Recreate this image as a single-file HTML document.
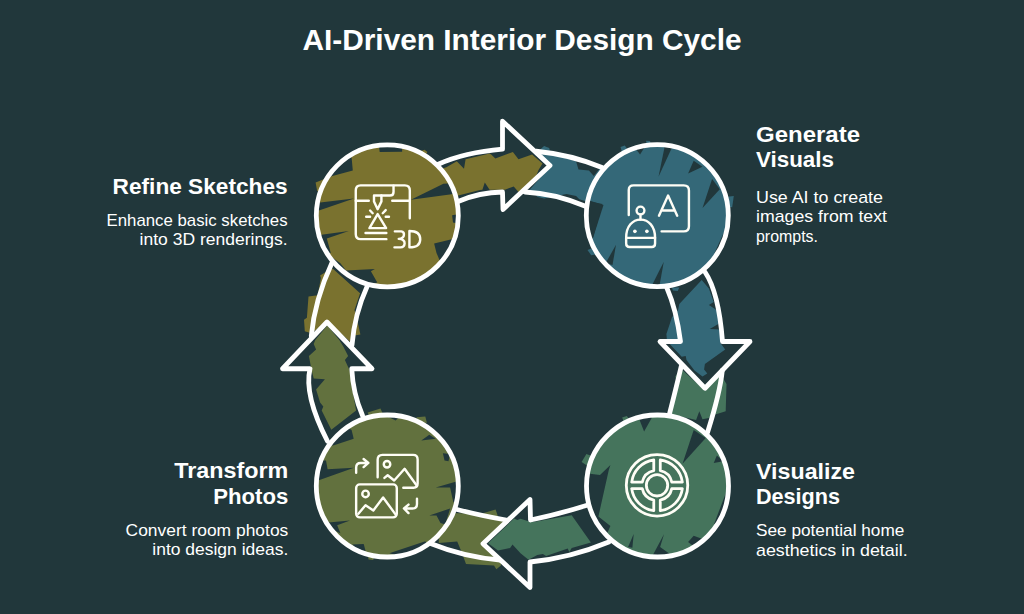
<!DOCTYPE html>
<html><head><meta charset="utf-8"><title>AI-Driven Interior Design Cycle</title>
<style>html,body{margin:0;padding:0;background:#21373b;}body{width:1024px;height:614px;overflow:hidden;font-family:"Liberation Sans",sans-serif;}svg{display:block;}</style>
</head><body>
<svg width="1024" height="614" viewBox="0 0 1024 614">
<rect width="1024" height="614" fill="#21373b"/>
<defs>
<clipPath id="cTL"><circle cx="387.3" cy="215.8" r="71"/></clipPath>
<clipPath id="cTR"><circle cx="657.3" cy="215.6" r="71"/></clipPath>
<clipPath id="cBL"><circle cx="387.3" cy="486.0" r="71"/></clipPath>
<clipPath id="cBR"><circle cx="657.5" cy="486.0" r="71"/></clipPath>
</defs>
<g id="fills">
<polygon points="436.8,170.4 446.4,167.2 456.8,161.2 464.0,168.8 465.6,159.2 489.6,153.6 491.2,154.4 495.3,158.4 512.9,152.0 518.5,159.2 532.1,154.4 542.5,163.6 538.5,170.0 536.1,176.0 523.3,189.7 518.5,192.1 513.7,186.5 504.9,189.7 489.6,189.7 484.8,182.5 482.4,189.7 480.0,190.1 459.2,195.3 449.6,198.5" fill="#7a722f"/>
<polygon points="534.5,154.4 544.1,145.9 549.2,148.0 550.5,153.6 576.1,161.6 578.5,169.6 588.9,170.4 593.8,176.0 600.2,168.0 606.6,176.0 606.6,204.9 584.9,200.9 579.3,199.3 576.1,196.1 566.5,194.0 544.1,198.5 537.7,196.9 529.7,189.7 551.3,165.6" fill="#346878"/>
<polygon points="701.7,279.9 708.9,288.4 713.7,302.0 708.9,304.9 717.7,310.8 718.8,323.7 709.7,328.9 720.1,329.6 720.9,340.5 720.1,342.4 725.2,349.6 704.9,364.0 704.1,369.6 707.3,373.6 702.5,376.4 694.5,370.4 686.5,360.0 685.7,356.0 681.7,356.8 670.4,344.8 666.9,339.7 666.4,334.1 672.0,317.3 678.1,310.0 679.3,304.0" fill="#346878"/>
<polygon points="672.0,287.6 679.3,287.6 677.7,291.1 672.8,290.5" fill="#346878"/>
<polygon points="680.1,368.0 704.1,389.7 720.1,373.6 726.5,384.0 725.7,411.3 717.7,413.7 711.3,415.3 708.9,418.0 702.5,419.3 699.3,411.3 696.1,420.1 673.6,414.8 670.4,413.7 677.7,384.0 675.2,376.8 679.3,370.4" fill="#45745c"/>
<polygon points="571.7,515.3 590.9,542.5 571.7,548.0 569.3,552.1 567.7,548.5 546.1,556.0 542.9,554.1 537.3,554.9 528.5,559.7 520.5,553.3 512.5,544.5 510.1,548.0 498.0,550.5 488.1,543.2 514.1,518.5 517.3,520.1 520.5,518.8 528.5,521.2 533.3,522.0" fill="#45745c"/>
<polygon points="438.8,512.4 480.4,514.0 495.6,509.5 498.0,516.4 503.7,522.0 482.0,542.9 501.2,561.3 500.9,565.6 496.4,569.3 494.0,565.6 466.0,564.0 464.7,560.5 461.2,550.9 457.2,541.6 438.8,542.9" fill="#62713e"/>
<polygon points="332.9,268.7 360.1,293.2 354.5,310.0 358.5,326.1 360.4,334.4 351.8,336.0 350.5,342.1 327.3,321.6 311.3,333.3 304.8,331.2 304.0,319.7 306.9,317.7 308.5,296.4 317.7,295.3 320.9,278.0 320.1,275.6 326.5,271.6" fill="#7a722f"/>
<polygon points="327.3,325.6 315.3,340.0 313.7,344.0 316.1,349.6 308.9,356.0 311.3,368.8 313.7,378.4 324.9,379.2 316.1,389.6 320.1,402.5 323.3,406.5 321.7,410.5 331.3,429.7 356.1,410.5 352.1,388.0 349.7,370.4 344.9,360.0 348.1,356.0 343.3,346.4 339.3,340.0" fill="#62713e"/>
<polygon points="315.6,182.4 330.0,176.8 331.6,187.2 317.2,191.3" fill="#7a722f"/>
<polygon points="418.1,152.0 424.5,149.8 427.4,152.0 424.5,156.8" fill="#7a722f"/>
<polygon points="620.5,146.9 624.8,145.6 628.9,151.2 622.4,153.6" fill="#346878"/>
<polygon points="646.1,140.8 650.0,141.1 651.3,145.6 646.5,145.6" fill="#346878"/>
<polygon points="724.9,196.9 733.8,196.1 732.2,207.3 724.9,206.5" fill="#346878"/>
<polygon points="587.5,250.0 592.8,248.0 596.0,254.5 591.2,255.3" fill="#346878"/>
<polygon points="581.6,462.1 586.4,454.0 600.0,458.9 593.6,470.1" fill="#45745c"/>
<polygon points="622.1,417.5 626.9,415.9 630.5,421.2 624.0,422.0" fill="#45745c"/>
<polygon points="367.7,412.4 380.5,408.4 382.9,414.0 370.1,418.8" fill="#62713e"/>
<polygon points="416.5,417.2 425.3,416.4 426.9,422.8 418.1,423.6" fill="#62713e"/>
<polygon points="367.7,554.9 374.1,554.9 373.3,560.0 368.5,559.4" fill="#62713e"/>
<circle cx="387.3" cy="215.8" r="71" fill="#7a722f"/>
<g clip-path="url(#cTL)" fill="#21373b">
<polygon points="378.9,145.6 402.1,145.6 402.1,151.7 379.7,152.0"/>
<polygon points="351.6,157.6 352.8,170.4 332.4,176.0 315.6,182.4 330.0,145.6"/>
<polygon points="312.4,203.3 354.0,198.6 312.4,212.6"/>
<polygon points="410.9,199.7 443.4,183.7 464.6,182.4 464.6,192.4"/>
<polygon points="452.1,215.3 456.5,214.5 456.5,223.3 453.0,222.5"/>
<polygon points="315.6,235.6 348.9,231.1 326.8,238.4 330.8,252.9 315.6,252.9"/>
<polygon points="434.1,243.6 459.8,237.2 459.8,262.5 439.7,260.5 436.5,252.9"/>
<polygon points="331.6,256.9 340.4,263.3 346.0,270.5 374.9,268.9 370.9,271.3 377.3,282.5 354.0,289.7 325.2,270.5"/>
</g>
<circle cx="657.3" cy="215.6" r="71" fill="#346878"/>
<g clip-path="url(#cTR)" fill="#21373b">
<polygon points="664.9,145.6 672.9,145.6 658.5,176.8"/>
<polygon points="693.7,160.8 702.5,166.8 688.1,173.6"/>
<polygon points="712.1,178.9 719.8,189.2 702.5,208.1"/>
<polygon points="634.5,147.2 644.1,148.0 640.1,154.4"/>
<polygon points="585.6,199.3 603.5,204.9 592.8,238.5 582.4,238.5"/>
<polygon points="582.4,200.0 602.4,204.0 592.8,238.4 585.6,238.4"/>
<polygon points="605.6,263.3 612.5,264.9 616.0,244.8"/>
<polygon points="652.1,284.9 659.6,284.9 663.8,261.7"/>
<polygon points="726.2,227.2 729.8,227.2 716.9,252.9 714.4,253.3"/>
</g>
<circle cx="387.3" cy="486.0" r="71" fill="#62713e"/>
<g clip-path="url(#cBL)" fill="#21373b">
<polygon points="351.6,430.0 353.7,438.8 334.0,445.2 322.0,447.6 338.0,422.0"/>
<polygon points="385.3,415.6 400.5,415.6 395.7,420.4"/>
<polygon points="326.0,460.5 327.6,469.3 354.0,467.7 315.6,481.3 315.6,460.5"/>
<polygon points="421.3,440.4 435.7,438.8 429.3,434.8"/>
<polygon points="442.9,453.2 450.1,454.0 448.5,461.3 444.5,460.5"/>
<polygon points="435.7,487.6 459.8,480.4 459.8,505.2 453.3,502.0 450.1,487.6"/>
<polygon points="429.3,515.6 450.1,508.4 445.3,524.5 440.5,522.9 436.5,515.6"/>
<polygon points="328.4,522.5 350.0,520.4 337.2,525.3 340.4,533.3 331.6,529.3"/>
<polygon points="352.4,544.5 363.7,544.0 365.6,550.9 357.2,550.1"/>
<polygon points="389.3,553.3 425.3,541.3 427.7,545.3 402.1,556.5"/>
</g>
<circle cx="657.5" cy="486.0" r="71" fill="#45745c"/>
<g clip-path="url(#cBR)" fill="#21373b">
<polygon points="638.5,417.2 652.1,417.2 644.1,431.6"/>
<polygon points="693.7,430.0 705.7,438.0 682.5,463.7"/>
<polygon points="716.9,455.6 723.3,461.3 713.7,462.9"/>
<polygon points="585.6,473.3 600.0,474.9 610.4,464.9 608.8,470.1 598.4,516.5 610.4,526.1 607.2,533.3 585.6,518.1"/>
<polygon points="628.1,546.9 633.7,534.1 632.4,547.7"/>
<polygon points="652.9,554.9 664.1,534.1 660.1,546.9 671.3,554.9"/>
<polygon points="688.1,542.1 693.7,535.7 702.5,538.9 695.3,547.7"/>
<polygon points="727.3,489.2 731.4,489.2 716.9,524.5 714.1,524.0"/>
</g>
</g>
<g id="outlines" fill="none" stroke="#ffffff" stroke-width="4.8" stroke-linejoin="round" stroke-linecap="round">
<path d="M438.30 164.30 Q464.60 152.45 502.50 149.20 L502.50 121.25 L550.00 165.50 L503.00 209.50 L502.50 192.00 Q479.38 192.38 458.75 201.25"/>
<path d="M536.25 151.25 Q570.88 154.62 602.00 167.50 "/>
<path d="M525.00 192.00 Q554.75 193.38 585.50 206.25 "/>
<path d="M705.00 272.00 Q718.75 292.25 722.50 341.50 L750.00 341.50 L705.00 388.25 L660.00 341.50 L680.50 341.50 Q676.25 309.12 667.00 288.25"/>
<path d="M722.30 370.50 Q720.10 392.50 707.50 432.50 "/>
<path d="M681.25 366.25 Q674.62 394.00 669.50 413.75 "/>
<path d="M608.75 542.00 Q570.62 558.00 530.00 562.00 L530.00 587.50 L483.00 543.75 L530.00 499.50 L530.50 520.00 Q556.62 514.75 586.25 505.50"/>
<path d="M500.00 560.00 Q464.38 557.12 431.25 543.75 "/>
<path d="M506.25 520.00 Q483.38 516.25 457.00 509.50 "/>
<path d="M327.50 441.25 Q303.75 395.00 310.00 368.75 L282.50 368.75 L327.00 322.00 L372.00 368.75 L351.75 368.75 Q352.88 392.88 362.50 415.50"/>
<path d="M311.25 336.25 Q314.62 299.88 332.30 262.00 "/>
<path d="M352.00 345.00 Q354.35 314.50 367.30 286.00 "/>
<circle cx="387.3" cy="215.8" r="71"/>
<circle cx="657.3" cy="215.6" r="71"/>
<circle cx="387.3" cy="486.0" r="71"/>
<circle cx="657.5" cy="486.0" r="71"/>
</g>
<g transform="translate(346,176) scale(0.13023)" fill="none" stroke="#fffef6" stroke-width="18.5" stroke-linecap="round" stroke-linejoin="round"><path d="M490,325 V112 Q490,72 452,72 H112 Q75,72 75,112 V448 Q75,485 112,485 H310"/><path d="M75,190 H175 M355,190 H490"/><path d="M365,75 V122 Q365,150 338,150 H225"/><path d="M215,150 V195 L243,255 L272,195 V150"/><path d="M243,292 L180,400 H308 Z"/><path d="M155,313 H185 M305,313 H330 M185,265 L205,286 M282,286 L305,262"/><path d="M150,438 H310"/><path d="M375,425 H425 Q447,427 445,452 Q443,480 405,483 Q452,486 450,517 Q448,548 418,548 H372"/><path d="M487,422 V548 Q570,548 570,485 Q570,422 487,422 Z"/></g>
<g transform="translate(616,176) scale(0.13023)" fill="none" stroke="#fffef6" stroke-width="18.5" stroke-linecap="round" stroke-linejoin="round"><path d="M98,300 V108 Q98,72 135,72 H520 Q560,72 560,112 V385 Q560,425 520,425 H350"/><path d="M330,305 L400,150 L470,305 M350,265 H450"/><circle cx="188" cy="265" r="30"/><path d="M188,295 V335"/><path d="M78,475 C78,385 128,335 188,335 C250,335 300,385 300,475"/><path d="M78,475 H300 M78,475 V518 Q78,545 105,545 H275 Q300,545 300,518 V475"/><circle cx="145" cy="425" r="14" fill="#fffef6" stroke="none"/><circle cx="237" cy="425" r="14" fill="#fffef6" stroke="none"/></g>
<g transform="translate(616,446) scale(0.13023)" fill="none" stroke="#fffef6" stroke-width="21.5" stroke-linecap="round" stroke-linejoin="round"><circle cx="315" cy="302" r="236"/><circle cx="315" cy="302" r="82"/><path d="M290.0,107.6 A196,196 0 0 0 120.6,277.0 L201.7,277.0 A116,116 0 0 1 290.0,188.7 Z M290.0,496.4 A196,196 0 0 1 120.6,327.0 L201.7,327.0 A116,116 0 0 0 290.0,415.3 Z M340.0,107.6 A196,196 0 0 1 509.4,277.0 L428.3,277.0 A116,116 0 0 0 340.0,188.7 Z M340.0,496.4 A196,196 0 0 0 509.4,327.0 L428.3,327.0 A116,116 0 0 1 340.0,415.3 Z"/></g>
<g transform="translate(346,446) scale(0.13023)" fill="none" stroke="#fffef6" stroke-width="18.5" stroke-linecap="round" stroke-linejoin="round"><path d="M243,240 V105 Q243,68 280,68 H515 Q550,68 550,103 V288 Q550,320 518,320 H440"/><circle cx="315" cy="140" r="25"/><path d="M295,245 L320,225 L370,265 L450,175 L540,300"/><rect x="78" y="295" width="312" height="253" rx="28"/><circle cx="150" cy="368" r="25"/><path d="M95,520 L150,455 L210,495 L285,395 L380,525"/><path d="M78,205 V165 Q78,130 113,130 H170 M135,100 L172,130 L135,162"/><path d="M545,405 V445 Q545,480 510,480 H450 M480,450 L445,480 L480,515"/></g>
<g id="text" fill="#ffffff" font-family="'Liberation Sans', sans-serif">
<text x="522.0" y="49.8" font-size="29.0" font-weight="bold" text-anchor="middle" textLength="439.0" lengthAdjust="spacingAndGlyphs">AI-Driven Interior Design Cycle</text>
<text x="287.6" y="193.9" font-size="22.0" font-weight="bold" text-anchor="end" textLength="175.0" lengthAdjust="spacingAndGlyphs">Refine Sketches</text>
<text x="287.6" y="225.5" font-size="17.0" text-anchor="end" textLength="181.0" lengthAdjust="spacingAndGlyphs">Enhance basic sketches</text>
<text x="287.6" y="244.9" font-size="17.0" text-anchor="end" textLength="148.0" lengthAdjust="spacingAndGlyphs">into 3D renderings.</text>
<text x="756.0" y="141.8" font-size="22.0" font-weight="bold" textLength="104.0" lengthAdjust="spacingAndGlyphs">Generate</text>
<text x="756.0" y="167.3" font-size="22.0" font-weight="bold" textLength="78.0" lengthAdjust="spacingAndGlyphs">Visuals</text>
<text x="756.0" y="203.3" font-size="17.0" textLength="127.0" lengthAdjust="spacingAndGlyphs">Use AI to create</text>
<text x="756.0" y="222.4" font-size="17.0" textLength="131.0" lengthAdjust="spacingAndGlyphs">images from text</text>
<text x="756.0" y="241.6" font-size="17.0" textLength="62.0" lengthAdjust="spacingAndGlyphs">prompts.</text>
<text x="288.3" y="478.3" font-size="22.0" font-weight="bold" text-anchor="end" textLength="114.0" lengthAdjust="spacingAndGlyphs">Transform</text>
<text x="288.3" y="503.7" font-size="22.0" font-weight="bold" text-anchor="end" textLength="75.0" lengthAdjust="spacingAndGlyphs">Photos</text>
<text x="288.3" y="536.1" font-size="17.0" text-anchor="end" textLength="162.7" lengthAdjust="spacingAndGlyphs">Convert room photos</text>
<text x="288.3" y="555.3" font-size="17.0" text-anchor="end" textLength="136.0" lengthAdjust="spacingAndGlyphs">into design ideas.</text>
<text x="756.0" y="478.6" font-size="22.0" font-weight="bold" textLength="99.0" lengthAdjust="spacingAndGlyphs">Visualize</text>
<text x="756.0" y="503.7" font-size="22.0" font-weight="bold" textLength="84.0" lengthAdjust="spacingAndGlyphs">Designs</text>
<text x="756.0" y="536.4" font-size="17.0" textLength="148.3" lengthAdjust="spacingAndGlyphs">See potential home</text>
<text x="756.0" y="555.7" font-size="17.0" textLength="151.6" lengthAdjust="spacingAndGlyphs">aesthetics in detail.</text>
</g>
</svg>
</body></html>
